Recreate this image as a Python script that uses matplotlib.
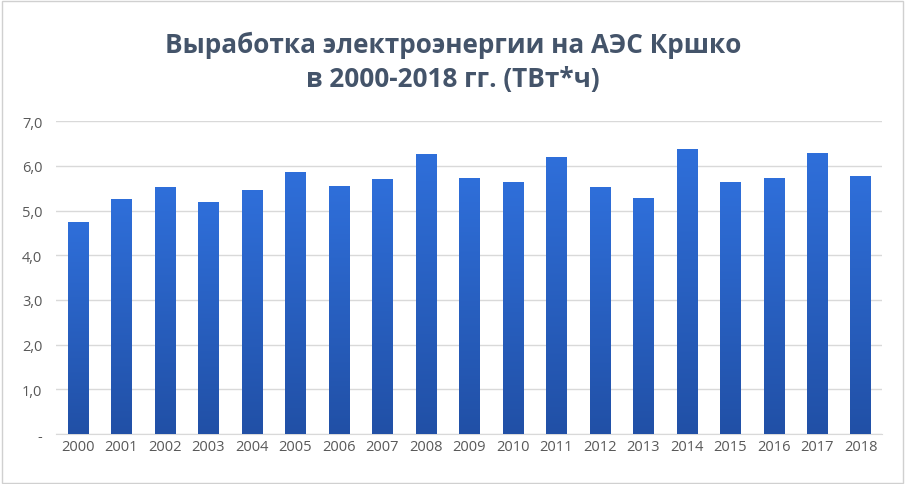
import matplotlib
matplotlib.use("Agg")
import matplotlib.pyplot as plt
import numpy as np
from matplotlib.patches import Rectangle

years = [str(y) for y in range(2000, 2019)]
values = [4.75, 5.25, 5.52, 5.20, 5.45, 5.87, 5.54, 5.70, 6.26, 5.74, 5.65, 6.21,
          5.52, 5.29, 6.37, 5.65, 5.72, 6.28, 5.77]
yticks = [0, 1, 2, 3, 4, 5, 6, 7]
ytick_labels = ["-", "1,0", "2,0", "3,0", "4,0", "5,0", "6,0", "7,0"]

plt.rcParams["font.family"] = ["Open Sans", "DejaVu Sans"]
fig = plt.figure(figsize=(9.06, 4.85), dpi=100)
fig.patches.append(Rectangle((0.002, 0.003), 0.995, 0.993, transform=fig.transFigure,
                             fill=False, edgecolor="#d0d0d0", lw=1))
ax = fig.add_axes([0.062, 0.103, 0.912, 0.645])
x = np.arange(len(years))
bars = ax.bar(x, values, width=0.47, color="#2a62c8", zorder=2)
grad = np.linspace(0, 1, 256).reshape(-1, 1)
cmap = matplotlib.colors.LinearSegmentedColormap.from_list("g", ["#2150a6", "#2f6fda"])
for b in bars:
    xx, w, h = b.get_x(), b.get_width(), b.get_height()
    im = ax.imshow(grad, cmap=cmap, origin="lower", aspect="auto",
                   extent=[xx, xx + w, 0, h], zorder=3)
    im.set_clip_path(b)
ax.set_xlim(-0.5, len(years) - 0.5)
ax.set_ylim(0, 7)
ax.set_yticks(yticks)
ax.set_yticklabels(ytick_labels)
ax.set_xticks(x)
ax.set_xticklabels(years)
ax.grid(axis="y", color="#d9d9d9", lw=1, zorder=0)
for s in ["top", "right", "left"]:
    ax.spines[s].set_visible(False)
ax.spines["bottom"].set_color("#d9d9d9")
ax.tick_params(length=0, colors="#595959", labelsize=10.5)
ax.tick_params(axis="y", pad=10)
fig.text(0.5, 0.872, "Выработка электроэнергии на АЭС Кршко\nв 2000-2018 гг. (ТВт*ч)",
         ha="center", va="center", fontsize=18.8, fontweight="bold", color="#44546a",
         linespacing=1.35)
fig.savefig("out.png", dpi=100)
